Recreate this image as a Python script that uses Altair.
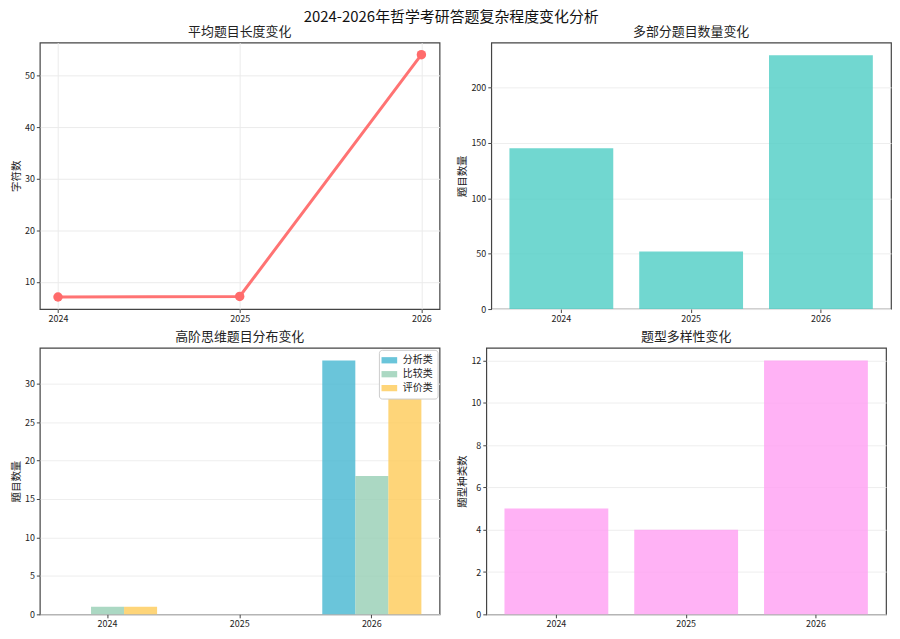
import altair as alt
import pandas as pd

FONT = "Noto Sans CJK SC"

years = ["2024", "2025", "2026"]
year_nums = [2024, 2025, 2026]
avg_length = [7.1, 7.2, 54.0]
multi_part = [145, 52, 229]
type_variety = [5, 4, 12]
ho_categories = ["分析类", "比较类", "评价类"]
ho_analysis = [0, 0, 33]
ho_compare = [1, 0, 18]
ho_evaluate = [1, 0, 28]

ticks_len = [10, 20, 30, 40, 50]
ticks_multi = [0, 50, 100, 150, 200]
ticks_ho = [0, 5, 10, 15, 20, 25, 30]
ticks_var = [0, 2, 4, 6, 8, 10, 12]

c_line = "#FF6B6B"
c_teal = "#4ECDC4"
c_pink = "#FF9FF3"
c_groups = ["#45B7D1", "#96CEB4", "#FECA57"]

W, H = 402, 268

df_len = pd.DataFrame({"year": year_nums, "value": avg_length})
df_multi = pd.DataFrame({"year": years, "value": multi_part})
df_var = pd.DataFrame({"year": years, "value": type_variety})
rows = []
for cat, vals in zip(ho_categories, [ho_analysis, ho_compare, ho_evaluate]):
    for y, v in zip(years, vals):
        rows.append({"year": y, "cat": cat, "value": v})
df_ho = pd.DataFrame(rows)

def ptitle(t):
    return alt.TitleParams(t, fontSize=13, font=FONT, fontWeight="normal", color="#222", offset=4)

# Panel 1: line
base1 = alt.Chart(df_len)
x1 = alt.X("year:Q", scale=alt.Scale(domain=[2023.9, 2026.1], nice=False, zero=False),
           axis=alt.Axis(values=year_nums, format="d", title=None, grid=True, gridColor="#ebebeb"))
y1 = alt.Y("value:Q", scale=alt.Scale(domain=[4.76, 56.35], nice=False, zero=False),
           axis=alt.Axis(values=ticks_len, title="字符数", grid=True, gridColor="#ebebeb"))
line = base1.mark_line(color=c_line, strokeWidth=3, opacity=0.95).encode(x=x1, y=y1)
pts = base1.mark_circle(color=c_line, size=90, opacity=1).encode(x=x1, y=y1)
p1 = (line + pts).properties(width=W, height=H, title=ptitle("平均题目长度变化"))

# Panel 2: bars
p2 = alt.Chart(df_multi).mark_bar(color=c_teal, opacity=0.8).encode(
    x=alt.X("year:N", scale=alt.Scale(paddingInner=0.2, paddingOuter=0.14),
            axis=alt.Axis(title=None, labelAngle=0, grid=False)),
    y=alt.Y("value:Q", scale=alt.Scale(domain=[0, 240.45], nice=False),
            axis=alt.Axis(values=ticks_multi, title="题目数量", grid=True, gridColor="#eeeeee")),
).properties(width=W, height=H, title=ptitle("多部分题目数量变化"))

# Panel 3: grouped bars
p3 = alt.Chart(df_ho).mark_bar(opacity=0.8).encode(
    x=alt.X("year:N", scale=alt.Scale(paddingInner=0.25, paddingOuter=0.1375),
            axis=alt.Axis(title=None, labelAngle=0, grid=False)),
    xOffset=alt.XOffset("cat:N", sort=ho_categories, scale=alt.Scale(paddingInner=0, paddingOuter=0)),
    y=alt.Y("value:Q", scale=alt.Scale(domain=[0, 34.65], nice=False),
            axis=alt.Axis(values=ticks_ho, title="题目数量", grid=True, gridColor="#eeeeee")),
    color=alt.Color("cat:N", sort=ho_categories,
                    scale=alt.Scale(domain=ho_categories, range=c_groups),
                    legend=alt.Legend(title=None, orient="top-right", offset=2,
                                      symbolType="M-1.5,-0.6H1.5V0.6H-1.5Z", symbolSize=110,
                                      symbolOpacity=0.8, symbolStrokeWidth=0,
                                      labelFont=FONT, labelFontSize=10, labelColor="#222",
                                      labelOffset=8,
                                      fillColor="white", strokeColor="#cccccc",
                                      padding=5, cornerRadius=3, rowPadding=3)),
).properties(width=W, height=H, title=ptitle("高阶思维题目分布变化"))

# Panel 4: bars
p4 = alt.Chart(df_var).mark_bar(color=c_pink, opacity=0.8).encode(
    x=alt.X("year:N", scale=alt.Scale(paddingInner=0.2, paddingOuter=0.14),
            axis=alt.Axis(title=None, labelAngle=0, grid=False)),
    y=alt.Y("value:Q", scale=alt.Scale(domain=[0, 12.6], nice=False),
            axis=alt.Axis(values=ticks_var, title="题型种类数", grid=True, gridColor="#eeeeee")),
).properties(width=W, height=H, title=ptitle("题型多样性变化"))

top = alt.hconcat(p1, p2, spacing=16)
bottom = alt.hconcat(p3, p4, spacing=16).resolve_legend(color="independent")
chart = alt.vconcat(top, bottom, spacing=5).resolve_legend(color="independent").properties(
    title=alt.TitleParams("2024-2026年哲学考研答题复杂程度变化分析", fontSize=15, font=FONT,
                          fontWeight="normal", color="#111", anchor="middle", offset=0),
    padding={"left": 2, "top": 0, "right": 0, "bottom": 0},
).configure_view(stroke="#444", strokeWidth=1.2).configure_axis(
    labelFont=FONT, titleFont=FONT, labelFontSize=9, titleFontSize=10.5, titleFontWeight="normal",
    labelColor="#222", titleColor="#222", domain=False, tickColor="#444", tickSize=3.5,
    labelPadding=2, titlePadding=3,
).configure_title(font=FONT)

chart.save("out.html", embed_options={"renderer": "svg", "actions": False})
